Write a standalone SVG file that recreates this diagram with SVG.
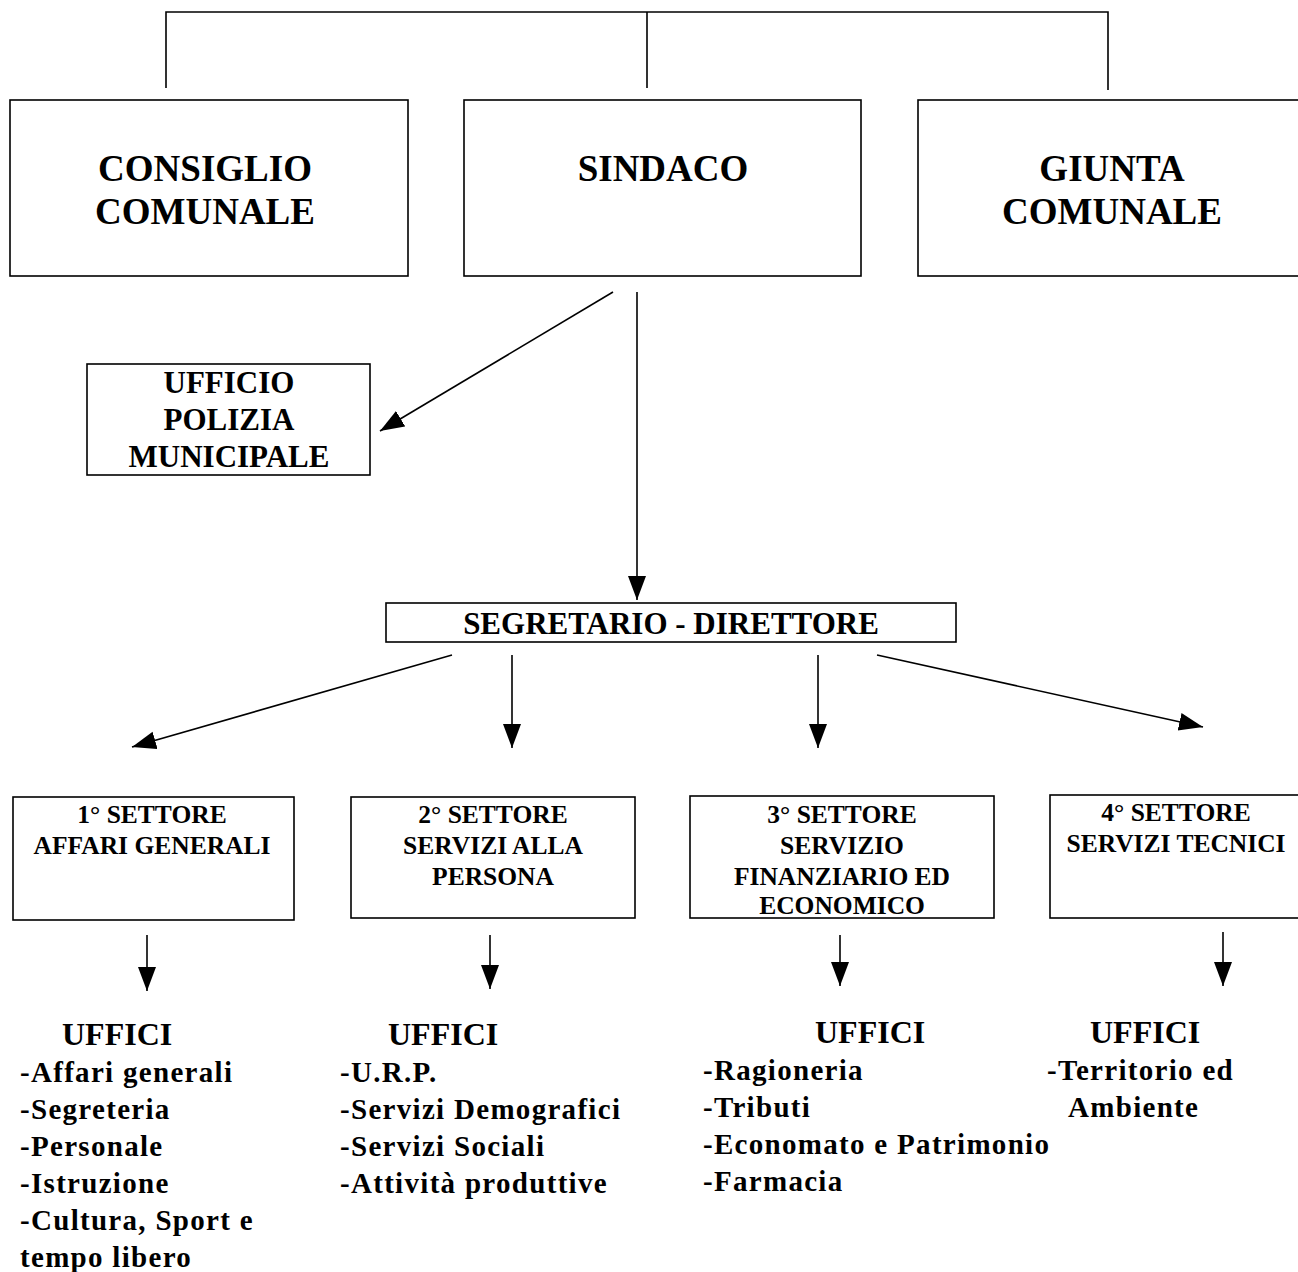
<svg xmlns="http://www.w3.org/2000/svg" width="1298" height="1272" viewBox="0 0 1298 1272">
<style>
.box{fill:#fff;stroke:#000;stroke-width:1.6}
.t{font-family:"Liberation Serif","Times New Roman",serif;font-weight:bold;fill:#000}
.big{font-size:37px;text-anchor:middle}
.mid{font-size:31px;text-anchor:middle}
.sec{font-size:25.5px;text-anchor:middle}
.hd{font-size:32px}
.it{font-size:29px;letter-spacing:1.3px}
.ln{stroke:#000;stroke-width:1.6;fill:none}
</style>
<defs>
<marker id="ah" markerUnits="userSpaceOnUse" markerWidth="26" markerHeight="20" refX="24" refY="9" orient="auto">
<path d="M0,0 L24,9 L0,18 Z" fill="#000"/>
</marker>
</defs>
<rect width="1298" height="1272" fill="#fff"/>
<g id="connectors">
<path class="ln" d="M166,88 V12 H1108 V90 M647,12 V88"/>
<line class="ln" x1="613" y1="292" x2="380" y2="431" marker-end="url(#ah)"/>
<line class="ln" x1="637" y1="292" x2="637" y2="600" marker-end="url(#ah)"/>
<line class="ln" x1="452" y1="655" x2="132" y2="747" marker-end="url(#ah)"/>
<line class="ln" x1="512" y1="655" x2="512" y2="748" marker-end="url(#ah)"/>
<line class="ln" x1="818" y1="655" x2="818" y2="748" marker-end="url(#ah)"/>
<line class="ln" x1="877" y1="655" x2="1203" y2="727" marker-end="url(#ah)"/>
<line class="ln" x1="147" y1="935" x2="147" y2="991" marker-end="url(#ah)"/>
<line class="ln" x1="490" y1="935" x2="490" y2="989" marker-end="url(#ah)"/>
<line class="ln" x1="840" y1="935" x2="840" y2="986" marker-end="url(#ah)"/>
<line class="ln" x1="1223" y1="932" x2="1223" y2="986" marker-end="url(#ah)"/>
</g>
<g id="consiglio">
<rect class="box" x="10" y="100" width="398" height="176"/>
<text class="t big" x="205" y="181">CONSIGLIO</text>
<text class="t big" x="205" y="224">COMUNALE</text>
</g>
<g id="sindaco">
<rect class="box" x="464" y="100" width="397" height="176"/>
<text class="t big" x="663" y="181">SINDACO</text>
</g>
<g id="giunta">
<rect class="box" x="918" y="100" width="400" height="176"/>
<text class="t big" x="1112" y="181">GIUNTA</text>
<text class="t big" x="1112" y="224">COMUNALE</text>
</g>
<g id="polizia">
<rect class="box" x="87" y="364" width="283" height="111"/>
<text class="t mid" x="229" y="393">UFFICIO</text>
<text class="t mid" x="229" y="430">POLIZIA</text>
<text class="t mid" x="229" y="467">MUNICIPALE</text>
</g>
<g id="segretario">
<rect class="box" x="386" y="603" width="570" height="39"/>
<text class="t mid" x="671" y="634">SEGRETARIO - DIRETTORE</text>
</g>
<g id="settore1">
<rect class="box" x="13" y="797" width="281" height="123"/>
<text class="t sec" x="152" y="823">1° SETTORE</text>
<text class="t sec" x="152" y="854">AFFARI GENERALI</text>
</g>
<g id="settore2">
<rect class="box" x="351" y="797" width="284" height="121"/>
<text class="t sec" x="493" y="823">2° SETTORE</text>
<text class="t sec" x="493" y="854">SERVIZI ALLA</text>
<text class="t sec" x="493" y="885">PERSONA</text>
</g>
<g id="settore3">
<rect class="box" x="690" y="796" width="304" height="122"/>
<text class="t sec" x="842" y="823">3° SETTORE</text>
<text class="t sec" x="842" y="854">SERVIZIO</text>
<text class="t sec" x="842" y="885">FINANZIARIO ED</text>
<text class="t sec" x="842" y="914">ECONOMICO</text>
</g>
<g id="settore4">
<rect class="box" x="1050" y="795" width="270" height="123"/>
<text class="t sec" x="1176" y="821">4° SETTORE</text>
<text class="t sec" x="1176" y="852">SERVIZI TECNICI</text>
</g>
<g id="uffici1">
<text class="t hd" x="62" y="1045">UFFICI</text>
<text class="t it" x="20" y="1082">-Affari generali</text>
<text class="t it" x="20" y="1119">-Segreteria</text>
<text class="t it" x="20" y="1156">-Personale</text>
<text class="t it" x="20" y="1193">-Istruzione</text>
<text class="t it" x="20" y="1230">-Cultura, Sport e</text>
<text class="t it" x="20" y="1267">tempo libero</text>
</g>
<g id="uffici2">
<text class="t hd" x="388" y="1045">UFFICI</text>
<text class="t it" x="340" y="1082">-U.R.P.</text>
<text class="t it" x="340" y="1119">-Servizi Demografici</text>
<text class="t it" x="340" y="1156">-Servizi Sociali</text>
<text class="t it" x="340" y="1193">-Attività produttive</text>
</g>
<g id="uffici3">
<text class="t hd" x="815" y="1043">UFFICI</text>
<text class="t it" x="703" y="1080">-Ragioneria</text>
<text class="t it" x="703" y="1117">-Tributi</text>
<text class="t it" x="703" y="1154">-Economato e Patrimonio</text>
<text class="t it" x="703" y="1191">-Farmacia</text>
</g>
<g id="uffici4">
<text class="t hd" x="1090" y="1043">UFFICI</text>
<text class="t it" x="1047" y="1080">-Territorio ed</text>
<text class="t it" x="1068" y="1117">Ambiente</text>
</g>
</svg>
